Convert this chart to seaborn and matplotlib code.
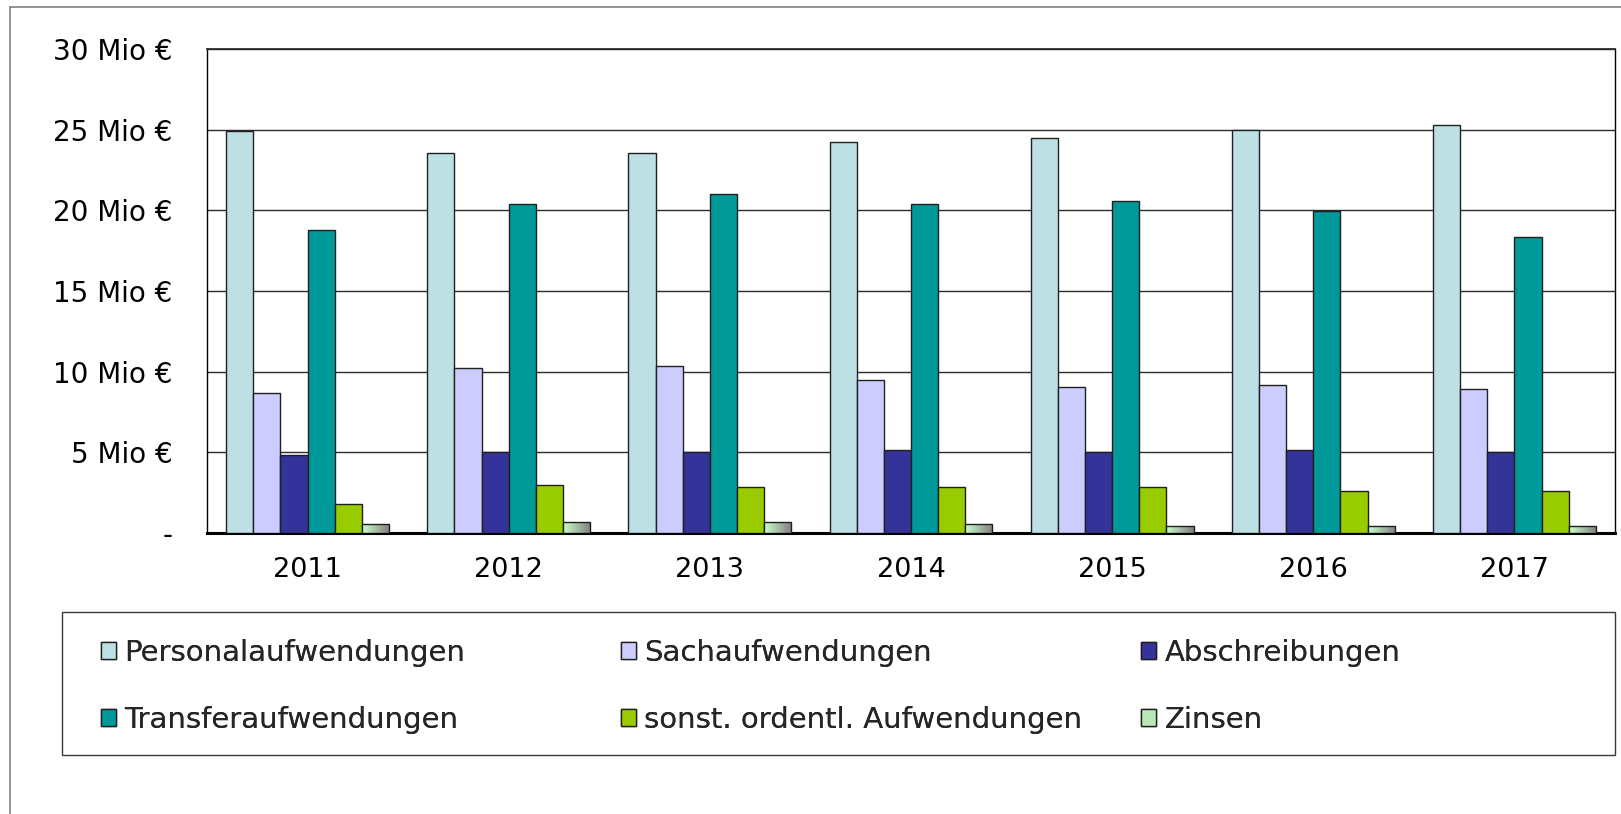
import numpy as np
import pandas as pd
import matplotlib
matplotlib.use("Agg")
import matplotlib.pyplot as plt
import seaborn as sns
from matplotlib.patches import Patch, Rectangle
from matplotlib.lines import Line2D
from matplotlib.colors import LinearSegmentedColormap

# ---- data (Mio €) ----
years = ["2011", "2012", "2013", "2014", "2015", "2016", "2017"]
categories = ["Personalaufwendungen", "Sachaufwendungen", "Abschreibungen",
              "Transferaufwendungen", "sonst. ordentl. Aufwendungen", "Zinsen"]
personal = [24.9, 23.55, 23.55, 24.25, 24.5, 24.95, 25.3]
sach = [8.65, 10.25, 10.37, 9.5, 9.05, 9.15, 8.9]
abschr = [4.85, 5.05, 5.05, 5.15, 5.05, 5.13, 5.05]
transfer = [18.8, 20.4, 21.0, 20.4, 20.55, 19.97, 18.32]
sonst = [1.8, 2.97, 2.86, 2.86, 2.86, 2.6, 2.6]
zinsen = [0.58, 0.68, 0.68, 0.56, 0.46, 0.45, 0.46]
ytick_vals = [0, 5, 10, 15, 20, 25, 30]
ytick_labels = ["-", "5 Mio €", "10 Mio €", "15 Mio €", "20 Mio €", "25 Mio €", "30 Mio €"]

colors = ["#BCE0E3", "#CCCCFF", "#333399", "#009999", "#99CC00", "#B8E8B8"]

series = [personal, sach, abschr, transfer, sonst, zinsen]
rows = []
for cat, vals in zip(categories, series):
    for y, v in zip(years, vals):
        rows.append({"Jahr": y, "Kategorie": cat, "Wert": v})
df = pd.DataFrame(rows)

sns.set_style("white")
plt.rcParams["font.family"] = ["DejaVu Sans"]

W, H = 1621, 814
fig = plt.figure(figsize=(W / 100, H / 100), dpi=100)
fig.patch.set_facecolor("white")

ax_l, ax_r, ax_t, ax_b = 207, 1615, 49, 533
ax = fig.add_axes([ax_l / W, 1 - ax_b / H, (ax_r - ax_l) / W, (ax_b - ax_t) / H])

sns.barplot(data=df, x="Jahr", y="Wert", hue="Kategorie", hue_order=categories,
            order=years, palette=colors, width=0.81, edgecolor="#1f1f1f",
            linewidth=1.0, saturation=1, ax=ax, legend=False, zorder=3)

# gradient fill for Zinsen bars
cmap = LinearSegmentedColormap.from_list("zins", ["#CCFFCC", "#7F7F7F"])
grad = np.linspace(0, 1, 64).reshape(1, -1)
zins_container = ax.containers[-1]
for p in zins_container.patches:
    x0, w, h = p.get_x(), p.get_width(), p.get_height()
    im = ax.imshow(grad, cmap=cmap, extent=(x0, x0 + w, 0, h), aspect="auto",
                   zorder=3.1, interpolation="bicubic")
    im.set_clip_path(p)
    p.set_facecolor("none")
    p.set_zorder(3.2)

ax.set_xlim(-0.5, len(years) - 0.5)
ax.set_ylim(0, 30)
ax.set_yticks(ytick_vals)
ax.set_yticklabels(ytick_labels)
ax.set_xlabel("")
ax.set_ylabel("")
ax.yaxis.grid(True, color="#2b2b2b", linewidth=1.0, zorder=0)
ax.set_axisbelow(True)

ax.set_xticks(np.arange(-0.5, len(years), 1.0), minor=True)
ax.tick_params(axis="x", which="major", length=0, pad=17, labelsize=19.5, colors="black")
ax.tick_params(axis="x", which="minor", length=6, width=2, direction="out", color="black")
ax.tick_params(axis="y", which="major", length=7, width=1, direction="out",
               pad=18, labelsize=20, colors="black")
ax.tick_params(axis="y", color="#333333")

for s in ["left", "right"]:
    ax.spines[s].set_color("black")
    ax.spines[s].set_linewidth(1.0)
ax.spines["top"].set_color("#2b2b2b")
ax.spines["top"].set_linewidth(1.3)
ax.spines["bottom"].set_color("black")
ax.spines["bottom"].set_linewidth(2.2)

# outer chart frame (left and top edges visible)
fig.add_artist(Line2D([10 / W, 10 / W], [0, 1 - 7 / H], transform=fig.transFigure,
                      color="#808080", linewidth=1.2))
fig.add_artist(Line2D([10 / W, 1], [1 - 7 / H, 1 - 7 / H], transform=fig.transFigure,
                      color="#808080", linewidth=1.2))

# legend box
lx0, lx1, ly0, ly1 = 62, 1615, 612, 755
fig.add_artist(Rectangle((lx0 / W, 1 - ly1 / H), (lx1 - lx0) / W, (ly1 - ly0) / H,
                         transform=fig.transFigure, facecolor="white",
                         edgecolor="#3a3a3a", linewidth=1.0))

handles = [Patch(facecolor=c, edgecolor="#1f1f1f", linewidth=1.0) for c in colors]
col_x = [101, 621, 1141]
legend_cols = [[0, 3], [1, 4], [2, 5]]
for cx, idxs in zip(col_x, legend_cols):
    leg = fig.legend([handles[i] for i in idxs], [categories[i] for i in idxs],
                     loc="upper left", bbox_to_anchor=(cx / W, 1 - 639 / H),
                     bbox_transform=fig.transFigure, frameon=False, fontsize=21,
                     handlelength=0.5, handleheight=0.5, handletextpad=0.3,
                     labelspacing=1.33, borderpad=0, borderaxespad=0)
    fig.add_artist(leg)

fig.savefig("out.png", dpi=100, facecolor="white")
